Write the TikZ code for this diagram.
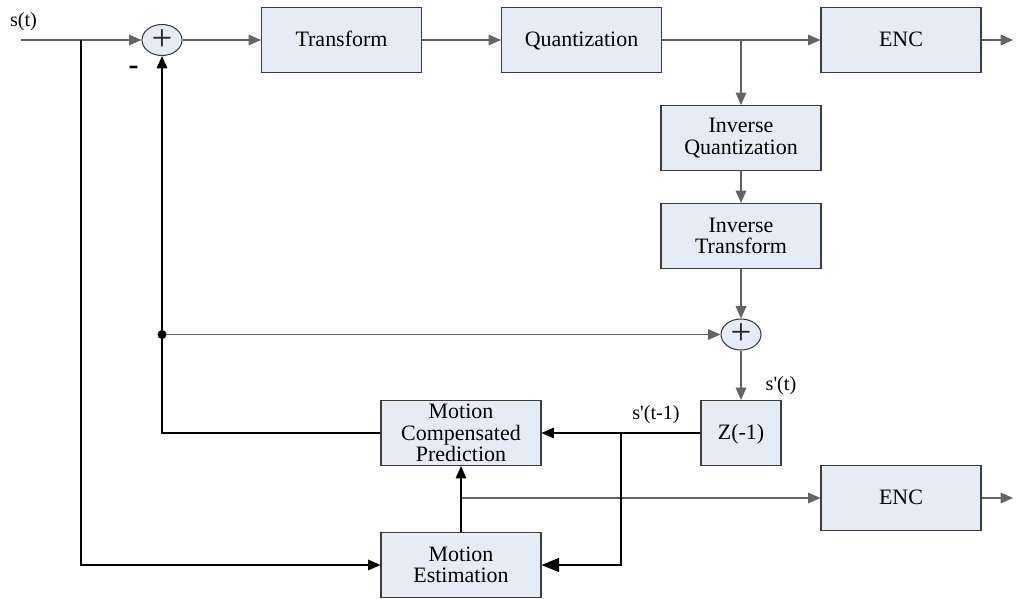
\documentclass[tikz,border=0pt]{standalone}
\usepackage{fontspec}
\setmainfont{Liberation Serif}
\usetikzlibrary{arrows.meta,shapes.geometric}
\definecolor{boxfill}{RGB}{230,236,246}
\definecolor{boxline}{RGB}{60,60,60}
\definecolor{linegray}{RGB}{100,100,100}
\begin{document}
\begin{tikzpicture}[>={Triangle[length=7pt,width=6pt]},line width=0.7pt,
    font=\fontsize{12.5}{12.3}\selectfont,
    oneline/.style={text height=2ex,text depth=0.4ex}]
      \useasboundingbox (0,0) rectangle (20.34,-11.98);
      \coordinate (s_in) at (0.42,-0.80);
      \coordinate (br_in) at (1.62,-0.80);
      \coordinate (br_q) at (14.82,-0.80);
      \coordinate (out_a) at (20.26,-0.80);
      \coordinate (dot) at (3.24,-6.69);
      \coordinate (br_z) at (12.42,-8.66);
      \coordinate (br_e) at (9.22,-9.96);
      \coordinate (out_b) at (20.26,-9.96);
      \begin{scope}[every node/.style={draw=boxline,fill=boxfill,line width=0.6pt,minimum width=3.2cm,minimum height=1.3cm,inner ysep=0.5pt,align=center}]
        \node[oneline] (tr) at (6.83,-0.80) {Transform};
        \node[oneline] (qu) at (11.63,-0.80) {Quantization};
        \node[oneline] (enc_a) at (18.02,-0.80) {ENC};
        \node (iq) at (14.82,-2.76) {Inverse\\Quantization};
        \node (it) at (14.82,-4.72) {Inverse\\Transform};
        \node (mcp) at (9.22,-8.66) {Motion\\Compensated\\Prediction};
        \node (me) at (9.22,-11.30) {Motion\\Estimation};
        \node[oneline] (enc_b) at (18.02,-9.96) {ENC};
        \node[oneline,minimum width=1.6cm] (z) at (14.82,-8.66) {Z(-1)};
      \end{scope}
      \begin{scope}[every node/.style={draw=boxline,fill=boxfill,line width=0.6pt,ellipse,minimum width=0.8cm,minimum height=0.62cm,inner sep=0pt,text=black!85,font=\fontsize{21}{21}\selectfont}]
        \node (sum_a) at (3.24,-0.80) {+};
        \node (sum_b) at (14.82,-6.69) {+};
      \end{scope}
      \begin{scope}[every node/.style={font=\fontsize{11.5}{12}\selectfont}]
        \node (lbl_s) at (0.47,-0.44) {s(t)};
        \node[font=\fontsize{17}{17}\bfseries] (lbl_minus) at (2.67,-1.40) {-};
        \node (lbl_sp) at (15.62,-7.72) {s\textquotesingle(t)};
        \node (lbl_spm) at (13.12,-8.30) {s\textquotesingle(t-1)};
      \end{scope}
      \begin{scope}[every edge/.style={draw=linegray,->}]
        \path (s_in) edge (sum_a);
        \path (sum_a) edge (tr);
        \path (tr) edge (qu);
        \path (qu) edge (enc_a);
        \path (enc_a) edge (out_a);
        \path (br_q) edge (iq);
        \path (iq) edge (it);
        \path (it) edge (sum_b);
        \path (dot) edge (sum_b);
        \path (sum_b) edge (z);
        \path (br_e) edge (enc_b);
        \path (enc_b) edge (out_b);
      \end{scope}
      \begin{scope}[every edge/.style={draw=black,->}]
        \path (z) edge (mcp);
        \path (me) edge (mcp);
      \end{scope}
      \draw[->] (br_in) |- (me.west);
      \draw[->] (mcp.west) -| (sum_a.south);
      \draw[-{Triangle[length=10pt,width=8pt]}] (br_z) |- (me.east);
      \fill (dot) circle (0.09);
    \end{tikzpicture}
\end{document}
